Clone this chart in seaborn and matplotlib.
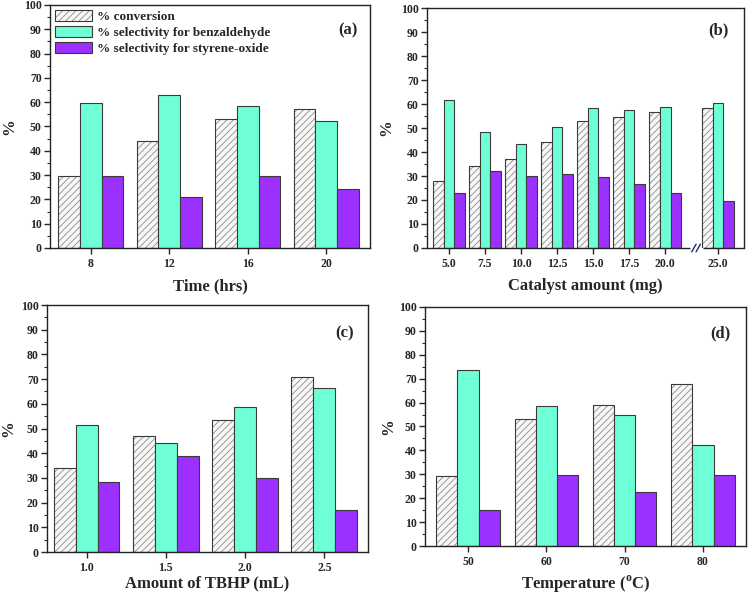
import numpy as np
import pandas as pd
import matplotlib
matplotlib.use("Agg")
import matplotlib.pyplot as plt
import matplotlib.transforms as mtransforms
from matplotlib.patches import Patch
from matplotlib.ticker import MultipleLocator
from matplotlib.colors import to_rgba
import seaborn as sns

# ---------------- data ----------------
series = ["% conversion", "% selectivity for benzaldehyde", "% selectivity for styrene-oxide"]

time_labels = ["8", "12", "16", "20"]
time_conv = [29.5, 44.0, 53.0, 57.3]
time_benz = [59.8, 62.8, 58.3, 52.4]
time_so = [29.5, 21.0, 29.5, 24.2]

cat_labels = ["5.0", "7.5", "10.0", "12.5", "15.0", "17.5", "20.0", "25.0"]
cat_conv = [27.9, 34.3, 36.9, 44.0, 52.9, 54.6, 56.6, 58.2]
cat_benz = [61.7, 48.2, 43.4, 50.6, 58.4, 57.5, 58.9, 60.3]
cat_so = [23.0, 31.9, 30.1, 30.8, 29.7, 26.7, 22.8, 19.4]

tbhp_labels = ["1.0", "1.5", "2.0", "2.5"]
tbhp_conv = [34.0, 46.8, 53.3, 70.8]
tbhp_benz = [51.3, 44.3, 58.7, 66.2]
tbhp_so = [28.3, 38.8, 29.9, 17.0]

temp_labels = ["50", "60", "70", "80"]
temp_conv = [29.1, 53.1, 58.8, 67.9]
temp_benz = [73.5, 58.4, 54.9, 42.2]
temp_so = [14.9, 29.7, 22.8, 29.5]

# ---------------- style ----------------
sns.set_style("ticks")
plt.rcParams["font.family"] = ["Liberation Serif", "DejaVu Serif"]
plt.rcParams["font.weight"] = "bold"
plt.rcParams["axes.labelweight"] = "bold"
plt.rcParams["mathtext.fontset"] = "custom"
plt.rcParams["mathtext.rm"] = "Liberation Serif:bold"
plt.rcParams["mathtext.bf"] = "Liberation Serif:bold"
plt.rcParams["hatch.linewidth"] = 0.6
plt.rcParams["axes.linewidth"] = 1.0

conv_face = "#f7f7f7"
benz_col = "#6fffd6"
so_col = "#9b30ff"
edge_col = "#3a3a3a"
hatch_col = to_rgba("#8c8c8c")
palette = {series[0]: conv_face, series[1]: benz_col, series[2]: so_col}
HATCH = "/////"


def make_df(labels, conv, benz, so, break_after=None, gap=0.0):
    n = len(labels)
    pos = np.arange(n, dtype=float)
    if break_after is not None:
        pos = pos + np.where(np.arange(n) > break_after, gap, 0.0)
    rows = []
    for s, vals in zip(series, [conv, benz, so]):
        for p, lab, v in zip(pos, labels, vals):
            rows.append({"pos": p, "label": lab, "series": s, "value": v})
    return pd.DataFrame(rows), pos


fig = plt.figure(figsize=(7.49, 5.94), dpi=100)

panels = [
    dict(rect=[0.0668, 0.5825, 0.4272, 0.4091], labels=time_labels, d=(time_conv, time_benz, time_so),
         width=0.83, xlim=(-0.52, 3.56), xlabel="Time (hrs)", tag="(a)", tagpos=(0.93, 0.897), xpad=6.0,
         ypad=5, legend=True),
    dict(rect=[0.5701, 0.5825, 0.4232, 0.4040], labels=cat_labels, d=(cat_conv, cat_benz, cat_so),
         width=0.9, xlim=(-0.61, 8.19), xlabel="Catalyst amount (mg)", tag="(b)", tagpos=(0.918, 0.908), xpad=6.0,
         ypad=5, brk=True),
    dict(rect=[0.0627, 0.0707, 0.4286, 0.4158], labels=tbhp_labels, d=(tbhp_conv, tbhp_benz, tbhp_so),
         width=0.83, xlim=(-0.5, 3.55), xlabel="Amount of TBHP (mL)", tag="(c)", tagpos=(0.928, 0.887), xpad=1.5,
         ypad=3),
    dict(rect=[0.5674, 0.0808, 0.4286, 0.4024], labels=temp_labels, d=(temp_conv, temp_benz, temp_so),
         width=0.81, xlim=(-0.55, 3.55), xlabel="Temperature ($^{\\mathrm{o}}$C)", tag="(d)", tagpos=(0.919, 0.89),
         xpad=4.5, ypad=2),
]

for P in panels:
    ax = fig.add_axes(P["rect"])
    brk = P.get("brk", False)
    if brk:
        df, pos = make_df(P["labels"], *P["d"], break_after=6, gap=0.47)
    else:
        df, pos = make_df(P["labels"], *P["d"])
    sns.barplot(data=df, x="pos", y="value", hue="series", hue_order=series, palette=palette,
                native_scale=True, width=P["width"], saturation=1, edgecolor=edge_col, linewidth=0.8,
                legend=False, ax=ax, errorbar=None)
    for bar in ax.containers[0]:
        bar.set_hatch(HATCH)
        bar._hatch_color = hatch_col

    ax.set_xlim(*P["xlim"])
    ax.set_ylim(0, 100)
    ax.set_xticks(pos)
    ax.set_xticklabels(P["labels"])
    ax.yaxis.set_major_locator(MultipleLocator(10))
    ax.yaxis.set_minor_locator(MultipleLocator(5))
    ax.tick_params(axis="y", which="major", direction="out", length=4, width=1, labelsize=8.5, pad=2)
    ax.tick_params(axis="y", which="minor", direction="out", length=2, width=0.8)
    ax.tick_params(axis="x", which="major", direction="out", length=4, width=1, labelsize=8.5, pad=3)
    ax.set_ylabel("%", fontsize=12, labelpad=P["ypad"])
    ax.set_xlabel(P["xlabel"], fontsize=12, labelpad=P["xpad"])
    for sp in ax.spines.values():
        sp.set_visible(True)
        sp.set_color("#222222")
    ax.text(P["tagpos"][0], P["tagpos"][1], P["tag"], transform=ax.transAxes, ha="center", va="center",
            fontsize=12, fontweight="bold")

    if brk:
        ax.spines["bottom"].set_visible(False)
        trans = mtransforms.blended_transform_factory(ax.transData, ax.transAxes)
        x0, x1 = P["xlim"]
        ax.plot([x0, 6.69], [0, 0], transform=trans, color="#222222", lw=1.0, clip_on=False,
                solid_capstyle="butt")
        ax.plot([7.06, x1], [0, 0], transform=trans, color="#222222", lw=1.0, clip_on=False,
                solid_capstyle="butt")
        for xs in (6.74, 6.86):
            ax.plot([xs, xs + 0.12], [-0.016, 0.016], transform=trans, color="#1c2a7a", lw=1.0, clip_on=False)

    if P.get("legend"):
        handles = [
            Patch(facecolor=conv_face, edgecolor=edge_col, hatch=HATCH, linewidth=0.8),
            Patch(facecolor=benz_col, edgecolor=edge_col, linewidth=0.8),
            Patch(facecolor=so_col, edgecolor=edge_col, linewidth=0.8),
        ]
        handles[0]._hatch_color = hatch_col
        ax.legend(handles=handles, labels=series, loc="upper left", bbox_to_anchor=(0.0, 1.0),
                  frameon=False, fontsize=9.5, handlelength=2.8, handleheight=0.9, handletextpad=0.4,
                  labelspacing=0.25, borderaxespad=0.15, borderpad=0.2)

fig.savefig("out.png", dpi=100)
